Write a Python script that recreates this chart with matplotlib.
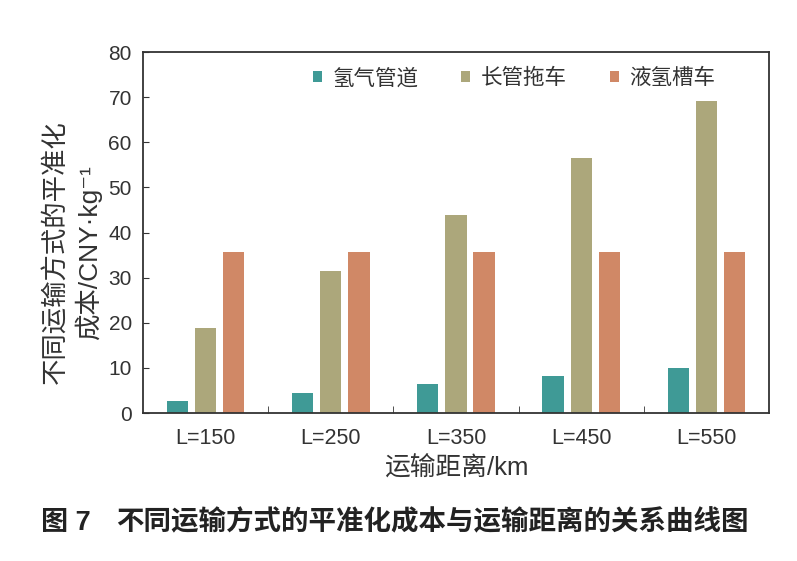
import numpy as np
import matplotlib
matplotlib.use("Agg")
import matplotlib.pyplot as plt

plt.rcParams['font.family'] = ['Liberation Sans', 'DejaVu Sans', 'Noto Sans CJK SC']

categories = ["L=150", "L=250", "L=350", "L=450", "L=550"]
pipeline = [2.7, 4.5, 6.35, 8.2, 10.0]
tube_trailer = [18.9, 31.4, 43.9, 56.6, 69.2]
liquid_tanker = [35.6, 35.6, 35.6, 35.6, 35.6]
series_names = ["氢气管道", "长管拖车", "液氢槽车"]
colors = ["#3f9a96", "#aca77b", "#d08866"]

text_color = "#333333"

fig = plt.figure(figsize=(7.97, 5.61), dpi=100)
ax = fig.add_axes([0.1794, 0.2638, 0.7854, 0.6435])

x = np.arange(len(categories))
width = 0.17
offsets = [-0.225, 0.0, 0.225]
for vals, off, col, name in zip([pipeline, tube_trailer, liquid_tanker], offsets, colors, series_names):
    ax.bar(x + off, vals, width, color=col, label=name, zorder=2)

ax.set_xlim(-0.5, len(categories) - 0.5)
ax.set_ylim(0, 80)
ax.set_yticks(np.arange(0, 81, 10))
ax.tick_params(axis='y', direction='in', length=4, labelsize=15, colors=text_color, pad=8)

# category labels centred, tick marks on group boundaries
ax.set_xticks(x)
ax.set_xticklabels(categories)
ax.tick_params(axis='x', length=0, labelsize=15.5, colors=text_color, pad=11)
ax.set_xticks(np.arange(0.5, len(categories) - 0.5, 1), minor=True)
ax.tick_params(axis='x', which='minor', direction='in', length=5, color='#333333')

for sp in ax.spines.values():
    sp.set_color('#333333')
    sp.set_linewidth(1.3)

ax.set_ylabel("不同运输方式的平准化\n成本/CNY·kg⁻¹", fontsize=19, color=text_color,
              linespacing=1.25)
ax.yaxis.set_label_coords(-0.066, 0.445)
ax.set_xlabel("运输距离/km", fontsize=18.5, color=text_color, labelpad=4)

ax.legend(loc='center', bbox_to_anchor=(0.593, 0.926), ncol=3, frameon=False,
          fontsize=15.5, handlelength=0.4, handleheight=0.4, handletextpad=0.5,
          columnspacing=2.0, labelcolor=text_color)

fig.text(0.052, 0.068, "图 7", fontsize=19.5, fontweight='bold', color='#222222',
         ha='left', va='center')
fig.text(0.146, 0.068, "不同运输方式的平准化成本与运输距离的关系曲线图",
         fontsize=19.8, fontweight='bold', color='#222222', ha='left', va='center')

fig.savefig("out.png", dpi=100)
